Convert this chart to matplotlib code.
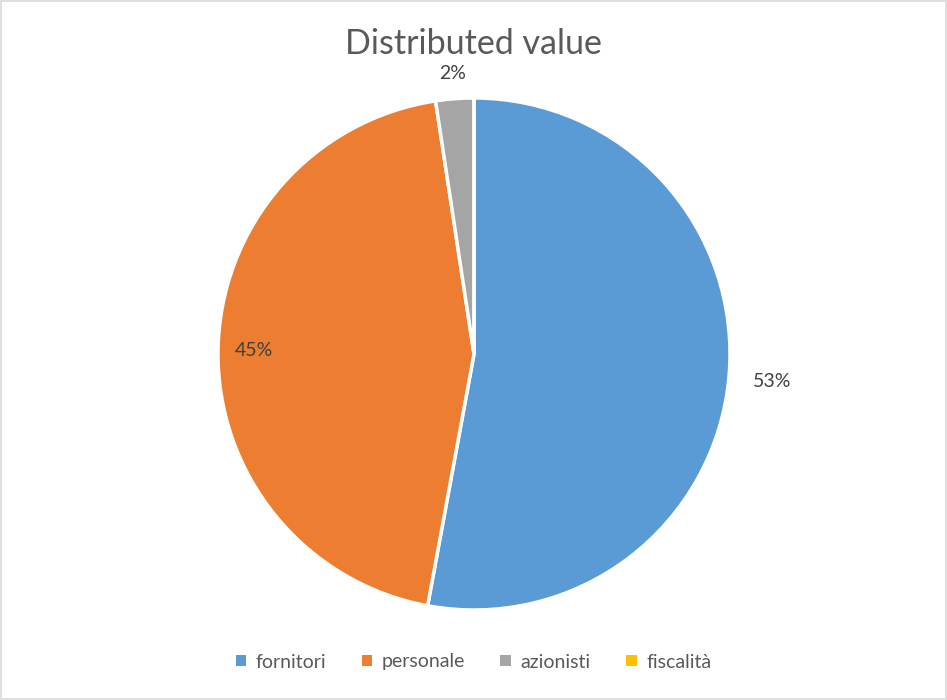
import numpy as np
import matplotlib
matplotlib.use("Agg")
import matplotlib.pyplot as plt
from matplotlib.patches import Rectangle

# data
categories = ["fornitori", "personale", "azionisti", "fiscalità"]
shares = [52.9, 44.7, 2.4, 0.0]
colors = ["#5B9BD5", "#ED7D31", "#A5A5A5", "#FFC000"]

plt.rcParams['font.family'] = ['Lato', 'DejaVu Sans']
txt_color = "#595959"

fig = plt.figure(figsize=(9.47, 7.0), dpi=100)
fig.patch.set_facecolor("white")

# pie axes (center ~ (474,354), radius ~256 px)
ax = fig.add_axes([218/947, 90/700, 512/947, 512/700])
wedges, _ = ax.pie(shares, colors=colors, startangle=90, counterclock=False,
                   wedgeprops=dict(edgecolor="white", linewidth=2.5), radius=1.0)
ax.set_xlim(-1, 1)
ax.set_ylim(-1, 1)
ax.set_aspect("equal")
ax.axis("off")

# percentage labels, radial distance per slice (Excel "best fit")
label_dist = [1.17, 0.86, 1.10, 1.1]
for w, v, d in zip(wedges, shares, label_dist):
    if v <= 0:
        continue
    ang = np.deg2rad((w.theta1 + w.theta2) / 2.0)
    ax.text(d*np.cos(ang), d*np.sin(ang), "%d%%" % round(v),
            ha="center", va="center", fontsize=14, color="#404040")

fig.text(0.5, 1 - 44/700, "Distributed value", ha="center", va="center",
         fontsize=24.5, color=txt_color)

# legend
handles = [plt.Rectangle((0, 0), 1, 1, facecolor=c, edgecolor="none") for c in colors]
fig.legend(handles, categories, loc="center", bbox_to_anchor=(0.5, 1 - 662/700),
           ncol=4, frameon=False, fontsize=14, handlelength=0.55, handleheight=0.55,
           handletextpad=0.5, columnspacing=1.8, labelcolor=txt_color)

# outer frame
fig.patches.append(Rectangle((0.001, 0.001), 0.998, 0.998, transform=fig.transFigure,
                             fill=False, edgecolor="#D9D9D9", linewidth=1.2))

fig.savefig("out.png", dpi=100)
